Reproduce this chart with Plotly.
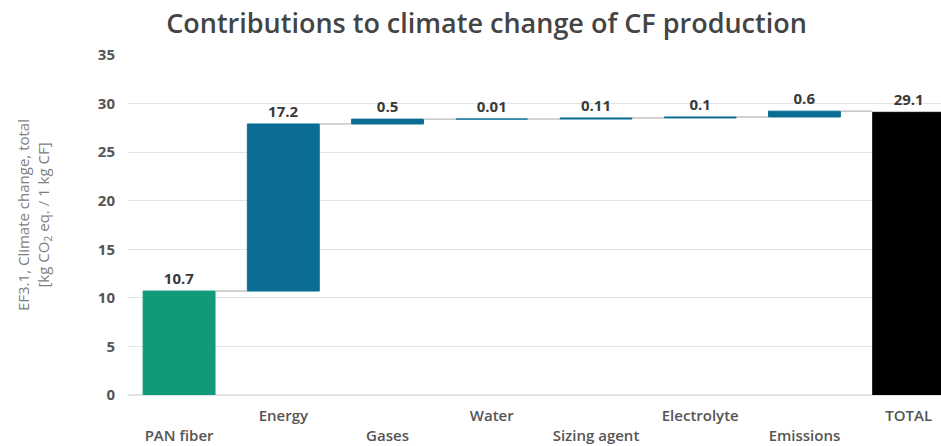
import plotly.graph_objects as go

# Contribution of each process step to the climate change impact of CF production
categories = ["PAN fiber", "Energy", "Gases", "Water", "Sizing agent",
              "Electrolyte", "Emissions", "TOTAL"]
values = [10.7, 17.2, 0.5, 0.01, 0.11, 0.1, 0.6, 29.1]
labels = ["10.7", "17.2", "0.5", "0.01", "0.11", "0.1", "0.6", "29.1"]
kinds = ["start", "step", "step", "step", "step", "step", "step", "total"]
y_ticks = [0, 5, 10, 15, 20, 25, 30, 35]

COLORS = {"start": "#11997a", "step": "#0b6d93", "total": "#000000"}
BAR_W = 0.69

# floating bars: each step starts where the previous one ended
bases, ends = [], []
running = 0.0
for v, k in zip(values, kinds):
    if k == "total":
        bases.append(0.0)
        ends.append(v)
    else:
        bases.append(running)
        running += v
        ends.append(running)

xs = list(range(len(categories)))

fig = go.Figure()

# connector lines between consecutive bars
cx, cy = [], []
for i in range(len(categories) - 1):
    cx += [xs[i] + BAR_W / 2, xs[i + 1] - BAR_W / 2, None]
    cy += [ends[i], ends[i], None]
fig.add_trace(go.Scatter(x=cx, y=cy, mode="lines",
                         line=dict(color="#a8a8a8", width=1),
                         hoverinfo="skip", showlegend=False))

colors = [COLORS[k] for k in kinds]
fig.add_trace(go.Bar(
    x=xs, y=values, base=bases, width=BAR_W,
    marker=dict(color=colors, line=dict(color=colors, width=1)),
    text=labels, textposition="outside", cliponaxis=False,
    textfont=dict(family="Open Sans", size=15, color="#3a3a3a", weight="bold"),
    showlegend=False,
))

# x labels alternate between two rows
ticktext = [("<br>" + c) if i % 2 == 0 else c for i, c in enumerate(categories)]

fig.update_layout(
    width=941, height=446,
    margin=dict(l=128, r=0, t=55, b=51),
    paper_bgcolor="white", plot_bgcolor="white",
    font=dict(family="Open Sans", color="#555555"),
    title=dict(text="Contributions to climate change of CF production",
               x=0.517, xanchor="center", y=0.948, yanchor="middle",
               font=dict(family="Open Sans", size=27, color="#444444", weight=600)),
    bargap=0.3,
    annotations=[dict(
        text="EF3.1, Climate change, total<br>[kg CO<sub>2</sub> eq. / 1 kg CF]",
        xref="paper", yref="paper", x=-0.115, y=0.528,
        xanchor="center", yanchor="middle", textangle=-90, showarrow=False,
        font=dict(family="Open Sans", size=15, color="#808080"),
    )],
)
fig.update_xaxes(
    range=[-0.49, 7.31], tickmode="array", tickvals=xs, ticktext=ticktext,
    showgrid=False, zeroline=False, showline=False, ticks="",
    ticklabelstandoff=10, automargin=False,
    tickfont=dict(family="Open Sans", size=15, color="#555555", weight=600),
)
fig.update_yaxes(
    range=[0, 35], tickmode="array", tickvals=y_ticks,
    showgrid=True, gridcolor="#e4e4e4", gridwidth=1,
    zeroline=True, zerolinecolor="#e4e4e4", showline=False,
    ticks="", ticklabelstandoff=12, automargin=False,
    tickfont=dict(family="Open Sans", size=15, color="#555555", weight="bold"),
)

fig.write_html("out.html")
